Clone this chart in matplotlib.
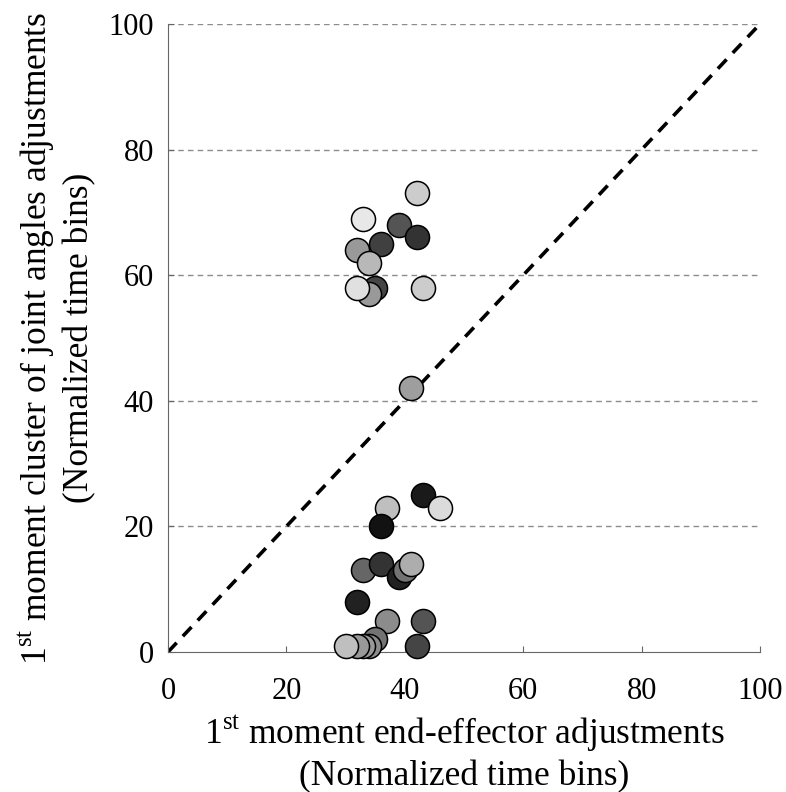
import numpy as np
import matplotlib
matplotlib.use("Agg")
import matplotlib.pyplot as plt

plt.rcParams['font.family'] = ['Liberation Serif', 'DejaVu Serif']
plt.rcParams['mathtext.fontset'] = 'custom'
plt.rcParams['mathtext.rm'] = 'Liberation Serif'

# first moment: end-effector (x) vs joint-angle cluster (y), grey level of each marker
x_ee = [42, 33, 39, 42, 36, 32, 34, 35, 34, 32, 43,
        41,
        43, 46, 37, 36, 33, 36, 39, 40, 41, 32, 37, 43, 35, 42, 34, 33, 32, 30]
y_ja = [73, 69, 68, 66, 65, 64, 62, 58, 57, 58, 58,
        42,
        25, 23, 23, 20, 13, 14, 12, 13, 14, 8, 5, 5, 2, 1, 1, 1, 1, 1]
grey = [0.80, 0.91, 0.33, 0.20, 0.25, 0.60, 0.72, 0.27, 0.60, 0.88, 0.80,
        0.62,
        0.10, 0.86, 0.75, 0.07, 0.40, 0.20, 0.13, 0.45, 0.68, 0.13, 0.55, 0.33,
        0.45, 0.27, 0.55, 0.60, 0.60, 0.75]

ticks = [0, 20, 40, 60, 80, 100]

fig = plt.figure(figsize=(7.86, 7.92), dpi=100)
ax = fig.add_axes([0.2137, 0.1768, 0.7533, 0.793])

for t in ticks[1:]:
    ax.axhline(t, color='0.55', lw=1, ls=(0, (4, 3)), zorder=1)

ax.plot([0, 100], [0, 100], color='black', lw=2.6, ls=(0, (3.5, 2.5)), zorder=2)

for xi, yi, g in zip(x_ee, y_ja, grey):
    ax.scatter(xi, yi, s=300, color=str(g), edgecolors='black', linewidths=1.1,
               zorder=3, clip_on=False)

ax.set_xlim(0, 100)
ax.set_ylim(0, 100)
ax.set_xticks(ticks)
ax.set_yticks(ticks)
ax.tick_params(direction='in', length=4, color='0.4', labelsize=22)
ax.tick_params(axis='x', pad=18)
ax.tick_params(axis='y', pad=10)
for side in ['top', 'right']:
    ax.spines[side].set_visible(False)
for side in ['left', 'bottom']:
    ax.spines[side].set_color('0.4')

ax.set_xlabel('1$^{\\rm st}$ moment end-effector adjustments\n(Normalized time bins)',
              fontsize=25.5, labelpad=5, linespacing=1.25)
ax.set_ylabel('1$^{\\rm st}$ moment cluster of joint angles adjustments\n(Normalized time bins)',
              fontsize=25.5, labelpad=9, linespacing=1.25)

fig.savefig('out.png', dpi=100)
